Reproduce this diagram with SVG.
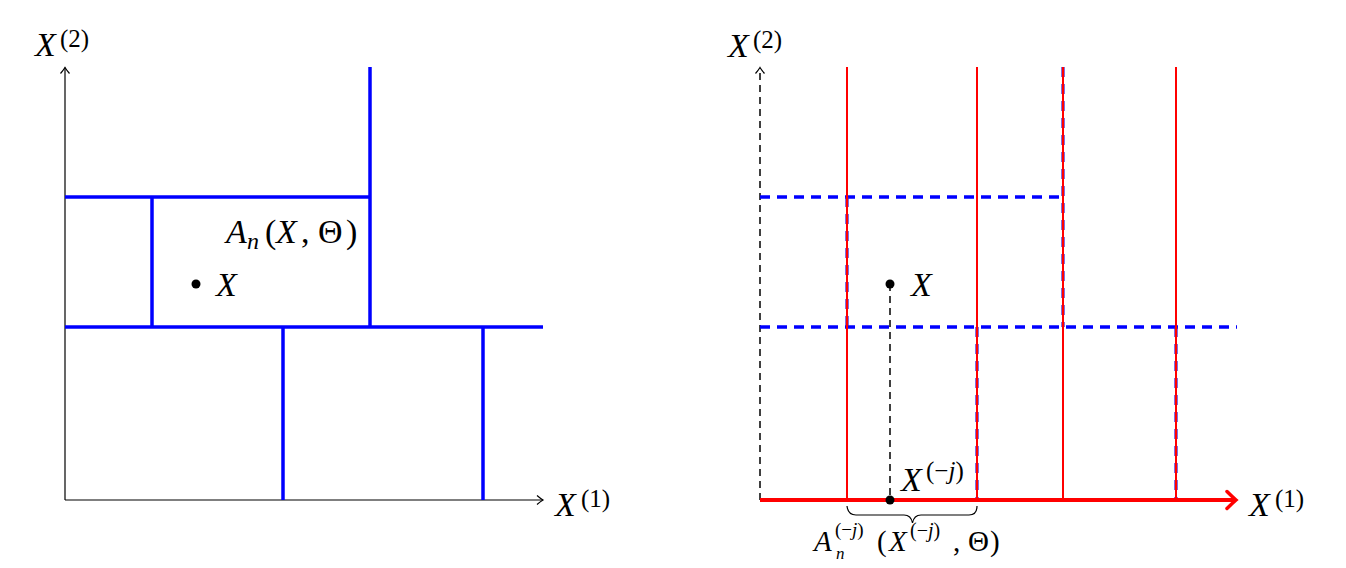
<svg xmlns="http://www.w3.org/2000/svg" width="1346" height="568" viewBox="0 0 1346 568" font-family="'Liberation Serif', 'DejaVu Serif', serif">
<style>
text{font-family:'Liberation Serif','DejaVu Serif',serif;fill:#000}
.i{font-style:italic}
.ax{stroke:#000;stroke-width:1.2;fill:none}
.bl{stroke:#0000ff;stroke-width:3.5;fill:none}
.bd{stroke:#0000ff;stroke-width:3.5;fill:none;stroke-dasharray:10 7}
.bdv{stroke:#3a1fd0;stroke-width:3.5;fill:none;stroke-dasharray:10 7;opacity:0.85}
.rd{stroke:#ff0000;stroke-width:2;fill:none}
.kd{stroke:#000;stroke-width:1.5;fill:none;stroke-dasharray:7 5}
</style>
<rect width="1346" height="568" fill="#fff"/>
<g id="left-axes">
<path class="ax" d="M65,500 V67.5"/>
<path class="ax" d="M60.5,73.5 Q63.5,70 65,67.5 Q66.5,70 69.5,73.5"/>
<path class="ax" d="M65,500 H543"/>
<path class="ax" d="M537,495.5 Q540.5,498.5 543,500 Q540.5,501.5 537,504.5"/>
<text x="35" y="56" font-size="34"><tspan class="i">X</tspan><tspan x="60" y="47" font-size="25">(2)</tspan></text>
<text x="555" y="516" font-size="34"><tspan class="i">X</tspan><tspan x="581" y="507" font-size="25">(1)</tspan></text>
</g>
<g id="left-partition">
<path class="bl" d="M65,327 H543"/>
<path class="bl" d="M65,197 H370"/>
<path class="bl" d="M370,67 V327"/>
<path class="bl" d="M152,197 V327"/>
<path class="bl" d="M283,327 V500"/>
<path class="bl" d="M483,327 V500"/>
</g>
<g id="left-point">
<circle cx="196" cy="284" r="4.5" fill="#000"/>
<text x="216" y="296" font-size="34" class="i">X</text>
</g>
<g id="left-cell-label">
<text y="243" font-size="34"><tspan x="226" class="i">A</tspan><tspan x="247" y="249" font-size="24" class="i">n</tspan><tspan x="265" y="243">(</tspan><tspan x="276" class="i">X</tspan><tspan x="301">,</tspan><tspan x="318">Θ</tspan><tspan x="346">)</tspan></text>
</g>
<g id="right-axes">
<path class="kd" d="M760,500 V69"/>
<path class="ax" d="M755.5,73.5 Q758.5,70 760,67.5 Q761.5,70 764.5,73.5"/>
<text x="728" y="57" font-size="34"><tspan class="i">X</tspan><tspan x="753" y="48" font-size="25">(2)</tspan></text>
<text x="1249" y="516" font-size="34"><tspan class="i">X</tspan><tspan x="1275" y="507" font-size="25">(1)</tspan></text>
</g>
<g id="right-dashed-partition">
<path class="bd" d="M760,197 H1063"/>
<path class="bd" d="M760,327 H1237"/>
</g>
<g id="right-red-lines">
<path class="bdv" d="M847,197 V327"/>
<path class="bdv" d="M1063,67 V327"/>
<path class="bdv" d="M977,327 V500"/>
<path class="bdv" d="M1176,327 V500"/>
<path class="rd" d="M847,67 V500"/>
<path class="rd" d="M977,67 V500"/>
<path class="rd" d="M1063,67 V500"/>
<path class="rd" d="M1176,67 V500"/>
</g>
<g id="right-x-axis">
<path d="M760,500 H1235" stroke="#ff0000" stroke-width="4" fill="none"/>
<path d="M1227,491.5 Q1232,496.5 1236,500 Q1232,503.5 1227,508.5" stroke="#ff0000" stroke-width="3.5" fill="none" stroke-linecap="round"/>
</g>
<g id="right-point">
<path class="kd" d="M890,284 V500"/>
<circle cx="890" cy="284" r="4.5" fill="#000"/>
<circle cx="890" cy="500" r="4.5" fill="#000"/>
<text x="911" y="296" font-size="34" class="i">X</text>
<text y="491" font-size="34"><tspan x="901" class="i">X</tspan><tspan x="926" y="479" font-size="25">(−<tspan class="i">j</tspan>)</tspan></text>
</g>
<g id="brace">
<path d="M847,506 Q848,515 856,515 H904 Q911,515 912.5,523 Q914,515 921,515 H969 Q977,515 977,506" stroke="#000" stroke-width="1.2" fill="none"/>
<text y="551" font-size="29"><tspan x="814" class="i">A</tspan><tspan x="836" y="559" font-size="17" class="i">n</tspan><tspan x="835" y="536" font-size="19">(−<tspan class="i">j</tspan>)</tspan><tspan x="877" y="551">(</tspan><tspan x="889" class="i">X</tspan><tspan x="910" y="537" font-size="20">(−<tspan class="i">j</tspan>)</tspan><tspan x="953" y="551">,</tspan><tspan x="968">Θ</tspan><tspan x="990">)</tspan></text>
</g>
</svg>
